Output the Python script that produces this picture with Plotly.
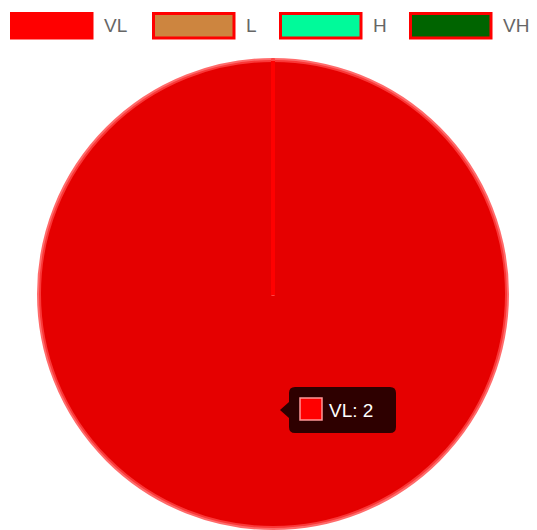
import plotly.graph_objects as go

labels = ["VL", "L", "H", "VH"]
values = [2, 0, 0, 0]
fill_colors = ["#ff0000", "#cd853f", "#00fa9a", "#006400"]
border_color = "#ff0000"
hovered_fill = "#e50000"

# page body has an 8px margin; the figure fills the rest of the window
OFF = 8
W, H = 537 - OFF, 530 - OFF


def px(x):
    return (x - OFF) / W


def py(y):
    return 1 - (y - OFF) / H


fig = go.Figure()
fig.add_trace(go.Pie(
    labels=labels,
    values=values,
    marker=dict(colors=[hovered_fill] + fill_colors[1:],
                line=dict(color="rgba(255,70,70,0.8)", width=4)),
    sort=False,
    direction="clockwise",
    rotation=0,
    textinfo="none",
    hoverinfo="skip",
    showlegend=False,
    domain=dict(x=[px(39), px(507)], y=[py(528), py(60)]),
))

shapes = []
annotations = []

# radial border line of the single slice (center to top), drawn in pure red
shapes.append(dict(type="line", xref="paper", yref="paper", layer="above",
                   x0=px(273), y0=py(295), x1=px(273), y1=py(61),
                   line=dict(color=border_color, width=4)))

# custom legend
legend_x = [10, 152, 279, 409]
for i, lab in enumerate(labels):
    x0 = legend_x[i]
    shapes.append(dict(type="rect", xref="paper", yref="paper",
                       x0=px(x0 + 1.5), x1=px(x0 + 82), y0=py(38), y1=py(13.5),
                       fillcolor=fill_colors[i],
                       line=dict(color=border_color, width=3)))
    annotations.append(dict(xref="paper", yref="paper", x=px(x0 + 92), y=py(25),
                            text=lab, showarrow=False, xanchor="left", yanchor="middle",
                            font=dict(family="Liberation Sans, Arial", size=19, color="#666666")))

# tooltip box
bx0, by0, bx1, by1, r = 289, 387, 396, 433, 6
path = (f"M {px(bx0 + r)},{py(by0)} L {px(bx1 - r)},{py(by0)} "
        f"Q {px(bx1)},{py(by0)} {px(bx1)},{py(by0 + r)} "
        f"L {px(bx1)},{py(by1 - r)} Q {px(bx1)},{py(by1)} {px(bx1 - r)},{py(by1)} "
        f"L {px(bx0 + r)},{py(by1)} Q {px(bx0)},{py(by1)} {px(bx0)},{py(by1 - r)} "
        f"L {px(bx0)},{py(418)} L {px(280)},{py(410)} L {px(bx0)},{py(402)} "
        f"L {px(bx0)},{py(by0 + r)} Q {px(bx0)},{py(by0)} {px(bx0 + r)},{py(by0)} Z")
shapes.append(dict(type="path", xref="paper", yref="paper", path=path,
                   fillcolor="rgba(0,0,0,0.8)", line=dict(width=0)))
shapes.append(dict(type="rect", xref="paper", yref="paper",
                   x0=px(300), x1=px(322), y0=py(420), y1=py(398),
                   fillcolor=fill_colors[0],
                   line=dict(color="rgba(255,150,150,1)", width=1.5)))
annotations.append(dict(xref="paper", yref="paper", x=px(327), y=py(410),
                        text=f"{labels[0]}: {values[0]}", showarrow=False,
                        xanchor="left", yanchor="middle",
                        font=dict(family="Liberation Sans, Arial", size=19, color="#ffffff")))

fig.update_layout(
    width=W, height=H,
    margin=dict(l=0, r=0, t=0, b=0),
    paper_bgcolor="white",
    plot_bgcolor="white",
    shapes=shapes,
    annotations=annotations,
    showlegend=False,
)

fig.write_html("out.html")
